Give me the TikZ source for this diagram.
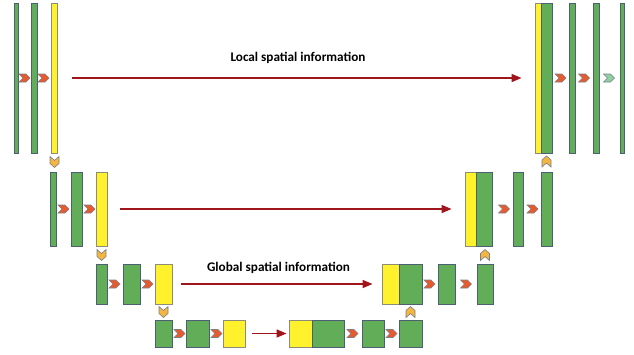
\documentclass[tikz,border=0pt]{standalone}
\usepackage{fontspec}
\setmainfont{Carlito}
\usetikzlibrary{arrows.meta}
\definecolor{gfill}{HTML}{62AD57}
\definecolor{gline}{HTML}{4D6073}
\definecolor{yfill}{HTML}{FFF22D}
\definecolor{yline}{HTML}{8C8C78}
\definecolor{ofill}{HTML}{E85A2B}
\definecolor{aufill}{HTML}{F4B63F}
\definecolor{lgfill}{HTML}{8FD19E}
\definecolor{cline}{HTML}{7A7F8C}
\definecolor{skipc}{HTML}{A0141C}
\newcommand\rchev[3]{\draw[chevline,fill=#3,shift={(#1,#2)}] (-5.5,-4) -- (1.5,-4) -- (5.5,0) -- (1.5,4) -- (-5.5,4) -- (-1.5,0) -- cycle;}
\newcommand\dchev[2]{\draw[chevline,fill=aufill,shift={(#1,#2)}] (-4.5,-5.5) -- (0,-1.5) -- (4.5,-5.5) -- (4.5,1.5) -- (0,5.5) -- (-4.5,1.5) -- cycle;}
\newcommand\uchev[2]{\draw[chevline,fill=aufill,shift={(#1,#2)}] (-4.5,5.5) -- (0,1.5) -- (4.5,5.5) -- (4.5,-1.5) -- (0,-5.5) -- (-4.5,-1.5) -- cycle;}
\tikzset{
  gbar/.style={draw=gline,fill=gfill,line width=0.9pt,inner sep=0pt,rectangle},
  ybar/.style={draw=yline,fill=yfill,line width=0.9pt,inner sep=0pt,rectangle},
  chevline/.style={draw=cline,line width=0.6pt,line join=miter},
  skip/.style={draw=skipc,line width=1.5pt,-{Triangle[length=10pt,width=8pt]}},
  lbl/.style={font=\bfseries\fontsize{13.2}{15}\selectfont,inner sep=0pt}
}
\begin{document}
\begin{tikzpicture}[x=1pt,y=-1pt]
\useasboundingbox (0,0) rectangle (634,354);
% ---------- level 1 (h=150, c=78)
\node[gbar,minimum width=4.5pt,minimum height=150pt] (a1) at (16.2,78) {};
\node[gbar,minimum width=6pt,minimum height=150pt] (a2) at (34,78) {};
\node[ybar,minimum width=6pt,minimum height=150pt] (a3) at (54,78) {};
\rchev{24.5}{78}{ofill}
\rchev{43.5}{78}{ofill}
\node[ybar,minimum width=6pt,minimum height=150pt] (r1y) at (538,78) {};
\node[gbar,minimum width=11pt,minimum height=150pt] (r1g) at (546.5,78) {};
\node[gbar,minimum width=6pt,minimum height=150pt] (r1b) at (572,78) {};
\node[gbar,minimum width=6pt,minimum height=150pt] (r1c) at (596,78) {};
\node[gbar,minimum width=4pt,minimum height=150pt] (r1d) at (622,78) {};
\rchev{560.5}{78}{ofill}
\rchev{584}{78}{ofill}
\rchev{609}{78}{lgfill}
\draw[skip] ([xshift=15pt]a3.east) -- ([xshift=-13pt]r1y.west);
\node[lbl] (t1) at (298,57.5) {Local spatial information};
\dchev{54.5}{162}
\uchev{546.5}{161.5}
% ---------- level 2 (h=74, c=209)
\node[gbar,minimum width=6pt,minimum height=74pt] (b1) at (53,209) {};
\node[gbar,minimum width=11pt,minimum height=74pt] (b2) at (76.5,209) {};
\node[ybar,minimum width=11pt,minimum height=74pt] (b3) at (101.5,209) {};
\rchev{63.5}{209}{ofill}
\rchev{89.5}{209}{ofill}
\node[ybar,minimum width=11pt,minimum height=74pt] (r2y) at (470.5,209) {};
\node[gbar,minimum width=16pt,minimum height=74pt] (r2g) at (484,209) {};
\node[gbar,minimum width=10pt,minimum height=74pt] (r2b) at (518,209) {};
\node[gbar,minimum width=11pt,minimum height=74pt] (r2c) at (546.5,209) {};
\rchev{504}{209}{ofill}
\rchev{532.5}{209}{ofill}
\draw[skip] ([xshift=13pt]b3.east) -- ([xshift=-13pt]r2y.west);
\dchev{101.5}{255}
\uchev{485}{255}
% ---------- level 3 (h=40, c=284)
\node[gbar,minimum width=11pt,minimum height=40pt] (c1) at (101.5,284) {};
\node[gbar,minimum width=17pt,minimum height=40pt] (c2) at (131.5,284) {};
\node[ybar,minimum width=17pt,minimum height=40pt] (c3) at (163.5,284) {};
\rchev{114.5}{284}{ofill}
\rchev{147.5}{284}{ofill}
\node[ybar,minimum width=17pt,minimum height=40pt] (r3y) at (390.5,284) {};
\node[gbar,minimum width=23pt,minimum height=40pt] (r3g) at (410.5,284) {};
\node[gbar,minimum width=17pt,minimum height=40pt] (r3b) at (446.5,284) {};
\node[gbar,minimum width=16pt,minimum height=40pt] (r3c) at (485,284) {};
\rchev{429.5}{284}{ofill}
\rchev{466}{284}{ofill}
\draw[skip] ([xshift=9pt]c3.east) -- ([xshift=-9pt]r3y.west);
\node[lbl] (t2) at (278.5,268) {Global spatial information};
\dchev{163.5}{312}
\uchev{410.5}{312}
% ---------- level 4 (h=27, c=333.5)
\node[gbar,minimum width=17pt,minimum height=27pt] (d1) at (163.5,333.5) {};
\node[gbar,minimum width=23pt,minimum height=27pt] (d2) at (197.5,333.5) {};
\node[ybar,minimum width=22pt,minimum height=27pt] (d3) at (234,333.5) {};
\rchev{179.5}{333.5}{ofill}
\rchev{216.5}{333.5}{ofill}
\node[ybar,minimum width=23pt,minimum height=27pt] (r4y) at (300.5,333.5) {};
\node[gbar,minimum width=32pt,minimum height=27pt] (r4g) at (328,333.5) {};
\node[gbar,minimum width=22pt,minimum height=27pt] (r4b) at (373,333.5) {};
\node[gbar,minimum width=23pt,minimum height=27pt] (r4c) at (410.5,333.5) {};
\rchev{352.5}{333.5}{ofill}
\rchev{391.5}{333.5}{ofill}
\draw[skip] ([xshift=7pt]d3.east) -- ([xshift=-2pt]r4y.west);
\end{tikzpicture}
\end{document}
